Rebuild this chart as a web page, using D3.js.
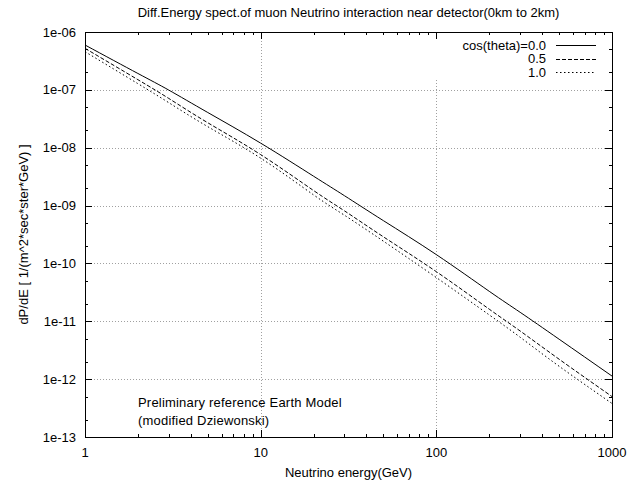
<!DOCTYPE html>
<html><head><meta charset="utf-8">
<script src="https://cdn.jsdelivr.net/npm/d3@7"></script>
<style>body{margin:0;background:#fff}svg{display:block}text{font-family:"Liberation Sans",Arial,sans-serif;fill:#000}</style>
</head><body><div id="chart"></div>
<script>
const energies = [1, 2, 3, 5, 10, 20, 30, 50, 100, 200, 300, 500, 1000];
const cos00 = [5.96e-7, 1.92e-7, 9.9e-8, 4.06e-8, 1.20e-8, 3.22e-9, 1.48e-9, 5.48e-10, 1.42e-10, 3.30e-11, 1.43e-11, 4.90e-12, 1.13e-12];
const cos05 = [5.22e-7, 1.50e-7, 7.1e-8, 2.70e-8, 7.6e-9, 1.82e-9, 8.1e-10, 2.88e-10, 7.2e-11, 1.62e-11, 6.8e-12, 2.21e-12, 5.0e-13];
const cos10 = [4.57e-7, 1.28e-7, 6.0e-8, 2.31e-8, 6.6e-9, 1.53e-9, 6.8e-10, 2.42e-10, 5.7e-11, 1.29e-11, 5.3e-12, 1.67e-12, 3.8e-13];
const seriesNames = ["cos(theta)=0.0", "0.5", "1.0"];
const xTicks = [1, 10, 100, 1000];
const xTickLabels = ["1", "10", "100", "1000"];
const yTicks = [1e-6, 1e-7, 1e-8, 1e-9, 1e-10, 1e-11, 1e-12, 1e-13];
const yTickLabels = ["1e-06", "1e-07", "1e-08", "1e-09", "1e-10", "1e-11", "1e-12", "1e-13"];
const titleText = "Diff.Energy spect.of muon Neutrino interaction near detector(0km to 2km)";
const xLabel = "Neutrino energy(GeV)";
const yLabel = "dP/dE [ 1/(m^2*sec*ster*GeV) ]";
const noteLines = ["Preliminary reference Earth Model", "(modified Dziewonski)"];

const W = 642, H = 486;
const m = {l: 85, r: 30, t: 32, b: 49};
const svg = d3.select("#chart").append("svg").attr("width", W).attr("height", H);
svg.append("rect").attr("width", W).attr("height", H).attr("fill", "#fff");
const x = d3.scaleLog().domain([1, 1000]).range([m.l, W - m.r]);
const y = d3.scaleLog().domain([1e-13, 1e-6]).range([H - m.b, m.t]);
const x0 = m.l, x1 = W - m.r, y0 = H - m.b, y1 = m.t;

// grid
const grid = svg.append("g").attr("stroke", "#a0a0a0").attr("stroke-width", 1).attr("stroke-dasharray", "1,2");
xTicks.slice(1, -1).forEach(v => {
  grid.append("line").attr("x1", Math.round(x(v)) + 0.5).attr("x2", Math.round(x(v)) + 0.5).attr("y1", y1).attr("y2", y0);
});
yTicks.slice(1, -1).forEach(v => {
  grid.append("line").attr("y1", Math.round(y(v)) + 0.5).attr("y2", Math.round(y(v)) + 0.5).attr("x1", x0).attr("x2", x1);
});
// key area blanks grid
svg.append("rect").attr("x", 420).attr("y", y1 + 1).attr("width", x1 - 421).attr("height", 45).attr("fill", "#fff");

// ticks
const tk = svg.append("g").attr("stroke", "#000").attr("stroke-width", 1);
const xMinor = [];
for (let d = 1; d < 1000; d *= 10) for (let k = 2; k <= 9; k++) xMinor.push(d * k);
const yMinor = [];
for (let d = 1e-13; d < 1e-6 * 0.99; d *= 10) { yMinor.push(d * 2); yMinor.push(d * 5); }
function xt(v, len) {
  const px = Math.round(x(v)) + 0.5;
  tk.append("line").attr("x1", px).attr("x2", px).attr("y1", y0).attr("y2", y0 - len);
  tk.append("line").attr("x1", px).attr("x2", px).attr("y1", y1).attr("y2", y1 + len);
}
function yt(v, len) {
  const py = Math.round(y(v)) + 0.5;
  tk.append("line").attr("y1", py).attr("y2", py).attr("x1", x0).attr("x2", x0 + len);
  tk.append("line").attr("y1", py).attr("y2", py).attr("x1", x1).attr("x2", x1 - len);
}
xTicks.forEach(v => xt(v, 7));
xMinor.forEach(v => xt(v, 3));
yTicks.forEach(v => yt(v, 7));
yMinor.forEach(v => yt(v, 3));

// border
svg.append("rect").attr("x", x0 + 0.5).attr("y", y1 + 0.5).attr("width", x1 - x0).attr("height", y0 - y1)
  .attr("fill", "none").attr("stroke", "#000").attr("stroke-width", 1);

// tick labels
const fs = 13;
xTicks.forEach((v, i) => {
  svg.append("text").attr("x", x(v)).attr("y", 457).attr("text-anchor", "middle").attr("font-size", fs).text(xTickLabels[i]);
});
yTicks.forEach((v, i) => {
  svg.append("text").attr("x", 76).attr("y", y(v) + 4.5).attr("text-anchor", "end").attr("font-size", fs).text(yTickLabels[i]);
});
svg.append("text").attr("x", (x0 + x1) / 2).attr("y", 17).attr("text-anchor", "middle").attr("font-size", fs).text(titleText);
svg.append("text").attr("x", (x0 + x1) / 2).attr("y", 477).attr("text-anchor", "middle").attr("font-size", fs).text(xLabel);
svg.append("text").attr("transform", `translate(28,${(y0 + y1) / 2}) rotate(-90)`).attr("text-anchor", "middle").attr("font-size", fs).text(yLabel);
noteLines.forEach((t, i) => {
  svg.append("text").attr("x", 138).attr("y", 407 + i * 18).attr("font-size", fs).attr("letter-spacing", 0.2).text(t);
});

// curves
const dashes = [null, "4,2", "1.5,2.5"];
const data = [cos00, cos05, cos10];
const line = d3.line().x(d => x(d[0])).y(d => y(d[1])).curve(d3.curveNatural);
data.forEach((vals, i) => {
  svg.append("path").datum(energies.map((e, j) => [e, vals[j]]))
    .attr("d", line).attr("fill", "none").attr("stroke", "#000").attr("stroke-width", 1)
    .attr("stroke-dasharray", dashes[i]);
  const ly = 45 + i * 13.5;
  svg.append("text").attr("x", 546).attr("y", ly + 4.5).attr("text-anchor", "end").attr("font-size", fs).text(seriesNames[i]);
  svg.append("line").attr("x1", 556).attr("x2", 596).attr("y1", Math.round(ly) + 0.5).attr("y2", Math.round(ly) + 0.5)
    .attr("stroke", "#000").attr("stroke-width", 1).attr("stroke-dasharray", dashes[i]);
});
</script></body></html>
